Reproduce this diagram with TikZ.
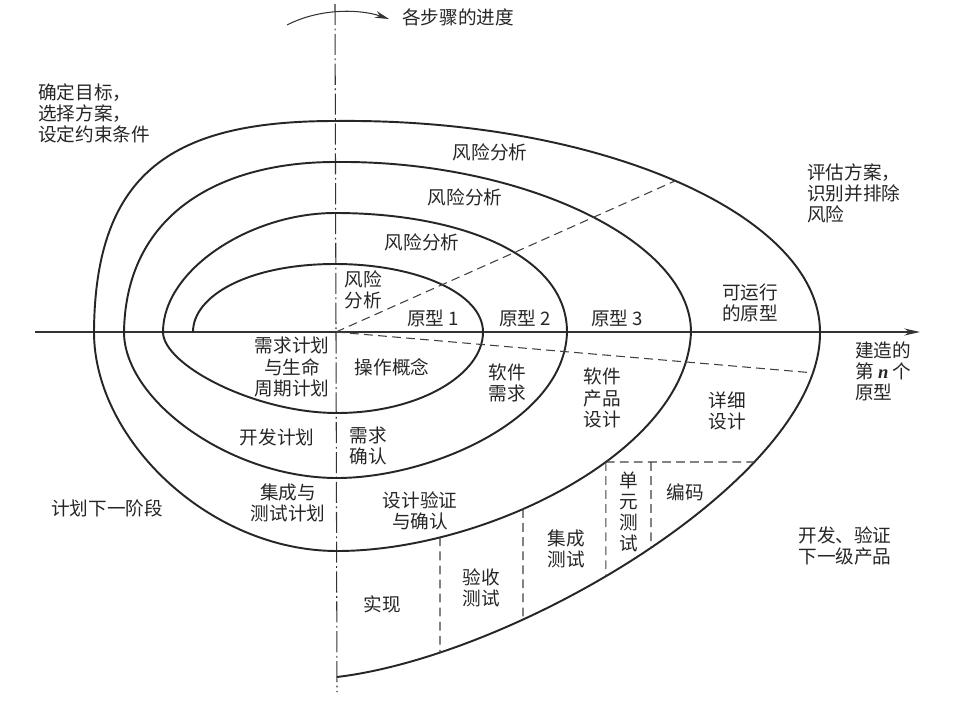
\documentclass[tikz,border=0pt]{standalone}
\usepackage{fontspec}
\setmainfont{Noto Sans CJK SC}
\newfontfamily\latinfont{Liberation Serif}
\usetikzlibrary{arrows.meta, intersections}
\tikzset{
    spiralline/.style={line width=1.1pt, black!85, line join=round},
    axisline/.style={line width=0.6pt, black!80},
    axisdashdot/.style={axisline, dash pattern=on 12pt off 2pt on 1pt off 2pt},
    divider/.style={line width=0.6pt, black!75, dash pattern=on 5pt off 3pt},
    lbl/.style={font=\fontsize{10.6}{12}\selectfont, align=center, inner sep=0pt, text=black!85},
    lblleft/.style={lbl, align=left, anchor=west}
}
\begin{document}
\begin{tikzpicture}[x=0.02cm, y=-0.02cm]
    \useasboundingbox (0,0) rectangle (974,703);
    \fill[white] (0,0) rectangle (974,703);

    % axes
    \coordinate (O) at (336,332);
    \coordinate (xl) at (35,332);
    \coordinate (xr) at (920,332);
    \coordinate (yt) at (335,4);
    \coordinate (yb) at (337,692);
    \draw[axisline, -{Stealth[length=9pt, width=4pt]}] (xl) -- (xr);
    \draw[axisdashdot] (yt) -- (O) -- (yb);

    % progress arrow
    \coordinate (pa) at (287,25);
    \coordinate (pb) at (389,19);
    \draw[axisline, -{Stealth[length=8pt, width=4pt]}] (pa) .. controls (320,8) and (360,9) .. (pb);
    \node[lblleft] (prog) at (402,17) {各步骤的进度};

    % spiral, one quarter per segment
    \draw[spiralline] (193,332) .. controls (193,295) and (250,264) .. (335,264)
        .. controls (416,264) and (483,293) .. (483,332)
        .. controls (483,375) and (418,413) .. (337,413)
        .. controls (255,413) and (163,365) .. (163,332)
        .. controls (163,270) and (250,213) .. (335,213)
        .. controls (460,213) and (567,255) .. (567,332)
        .. controls (565,420) and (430,478) .. (337,478)
        .. controls (230,478) and (124,400) .. (124,332)
        .. controls (126,210) and (225,162) .. (335,162)
        .. controls (520,160) and (691,240) .. (691,332)
        .. controls (687,452) and (485,551) .. (337,551)
        .. controls (210,551) and (94,440) .. (94,332)
        .. controls (95,170) and (175,121) .. (335,121)
        .. controls (600,118) and (820,215) .. (820,332)
        .. controls (822,475) and (520,655) .. (337,677);
    \path[name path=outertop] (335,121) .. controls (600,118) and (820,215) .. (820,332);
    \path[name path=outerlow] (820,332) .. controls (822,475) and (520,655) .. (337,677);
    \path[name path=midlow] (691,332) .. controls (687,452) and (485,551) .. (337,551);

    % dashed dividers
    \path[name path=rayup] (O) -- (740,152);
    \path[name path=raydown] (O) -- (850,376);
    \path[name path=hline] (560,462) -- (800,462);
    \path[name path=vcode] (651,440) -- (651,700);
    \path[name path=vinteg] (523,440) -- (523,700);
    \path[name path=vaccept] (440,480) -- (440,700);
    \path[name intersections={of=rayup and outertop, by={d1}}];
    \path[name intersections={of=raydown and outerlow, by={d2}}];
    \path[name intersections={of=hline and midlow, by={c1}}];
    \path[name intersections={of=hline and outerlow, by={c2}}];
    \path[name path=vunit] (c1) -- (c1 |- 0,700);
    \path[name intersections={of=vunit and outerlow, by={c3}}];
    \path[name intersections={of=vcode and outerlow, by={c5}}];
    \path[name intersections={of=vinteg and midlow, by={c6}}];
    \path[name intersections={of=vinteg and outerlow, by={c7}}];
    \path[name intersections={of=vaccept and midlow, by={c8}}];
    \path[name intersections={of=vaccept and outerlow, by={c9}}];
    \coordinate (c4) at (651,462);
    \draw[divider] (O) -- (d1);
    \draw[divider] (O) -- (d2);
    \draw[divider] (c1) -- (c2);
    \draw[divider] (c1) -- (c3);
    \draw[divider] (c4) -- (c5);
    \draw[divider] (c6) -- (c7);
    \draw[divider] (c8) -- (c9);

    % quadrant texts
    \node[lblleft] (goal) at (38,113) {确定目标，\\选择方案，\\设定约束条件};
    \node[lblleft] (eval) at (807,193) {评估方案，\\识别并排除\\风险};
    \node[lblleft] (build) at (855,371) {建造的\\第 {\latinfont\bfseries\itshape n} 个\\原型};
    \node[lbl] (plan) at (107,508) {计划下一阶段};
    \node[lbl] (dev) at (845,546) {开发、验证\\下一级产品};

    % risk analysis
    \node[lbl] (risk4) at (490,152) {风险分析};
    \node[lbl] (risk3) at (465,197) {风险分析};
    \node[lbl] (risk2) at (422,242) {风险分析};
    \node[lbl] (risk1) at (363,290) {风险\\分析};

    % prototypes
    \node[lbl] (proto1) at (433,318) {原型 1};
    \node[lbl] (proto2) at (525,318) {原型 2};
    \node[lbl] (proto3) at (617,318) {原型 3};
    \node[lbl] (protoop) at (750,303) {可运行\\的原型};

    % lower half
    \node[lbl] (reqplan) at (292,367) {需求计划\\与生命\\周期计划};
    \node[lbl] (concept) at (392,367) {操作概念};
    \node[lbl] (swreq) at (507,383) {软件\\需求};
    \node[lbl] (prodesign) at (602,398) {软件\\产品\\设计};
    \node[lbl] (detdesign) at (727,411) {详细\\设计};
    \node[lbl] (devplan) at (277,437) {开发计划};
    \node[lbl] (reqval) at (368,446) {需求\\确认};
    \node[lbl] (itplan) at (288,503) {集成与\\测试计划};
    \node[lbl] (desval) at (420,511) {设计验证\\与确认};
    \node[lbl] (impl) at (382,604) {实现};
    \node[lbl] (accept) at (481,588) {验收\\测试};
    \node[lbl] (integ) at (566,549) {集成\\测试};
    \node[lbl] (unit) at (629,512) {单\\元\\测\\试};
    \node[lbl] (code) at (685,492) {编码};
\end{tikzpicture}
\end{document}
